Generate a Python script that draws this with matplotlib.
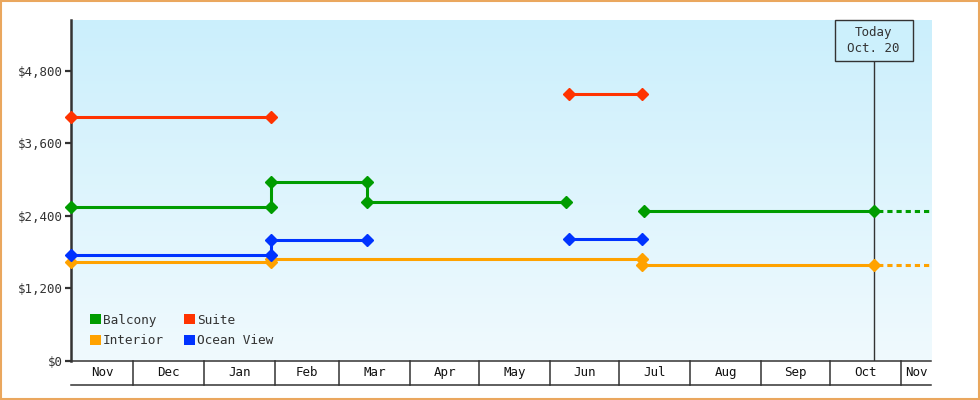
import datetime as dt
import numpy as np
import matplotlib
matplotlib.use("Agg")
import matplotlib.pyplot as plt
import matplotlib.dates as mdates
from matplotlib.patches import Rectangle, Patch

plt.rcParams["font.family"] = ["DejaVu Sans Mono"]

D = dt.date
NaN = np.nan

# ---------- data ----------
balcony_dates = [D(2012, 11, 4), D(2013, 1, 30), D(2013, 1, 30), D(2013, 3, 13), D(2013, 3, 13),
                 D(2013, 6, 8), D(2013, 6, 10), D(2013, 7, 12), D(2013, 10, 20)]
balcony_price = [2549, 2549, 2953, 2953, 2622, 2622, NaN, 2470, 2470]

suite_dates = [D(2012, 11, 4), D(2013, 1, 30), D(2013, 3, 1), D(2013, 6, 9), D(2013, 7, 11)]
suite_price = [4034, 4034, NaN, 4409, 4409]

interior_dates = [D(2012, 11, 4), D(2013, 1, 30), D(2013, 1, 30), D(2013, 7, 11), D(2013, 7, 11),
                  D(2013, 10, 20)]
interior_price = [1639, 1639, 1678, 1678, 1579, 1579]

ocean_dates = [D(2012, 11, 4), D(2013, 1, 30), D(2013, 1, 30), D(2013, 3, 13), D(2013, 4, 1),
               D(2013, 6, 9), D(2013, 7, 11)]
ocean_price = [1749, 1749, 1998, 1998, NaN, 2009, 2009]

series_names = ["Balcony", "Interior", "Suite", "Ocean View"]
series_dates = [balcony_dates, interior_dates, suite_dates, ocean_dates]
series_price = [balcony_price, interior_price, suite_price, ocean_price]
series_colors = ["#009c00", "#ffa200", "#ff3300", "#0033ff"]
# which series continue (dotted) past today
projected = [True, True, False, False]

today = D(2013, 10, 20)
today_label = "Today\nOct. 20"
x_start, x_end = D(2012, 11, 4), D(2013, 11, 14)
month_starts = [D(2012, 11, 4)] + [D(2012, 12, 1)] + [D(2013, m, 1) for m in range(1, 12)] + [D(2013, 11, 14)]
month_labels = ["Nov", "Dec", "Jan", "Feb", "Mar", "Apr", "May", "Jun", "Jul", "Aug", "Sep", "Oct", "Nov"]
y_ticks = [0, 1200, 2400, 3600, 4800]
y_max = 5640

DARK = "#333333"

fig = plt.figure(figsize=(9.8, 4.0), dpi=100)
fig.patches.append(Rectangle((0.001, 0.002), 0.998, 0.996, transform=fig.transFigure,
                             fill=False, edgecolor="#eaa75e", linewidth=1.5))
ax = fig.add_axes([71 / 980, 1 - 360.5 / 400, 860 / 980, 340.5 / 400])
ax.set_xlim(x_start, x_end)
ax.set_ylim(0, y_max)

# gradient background
grad = np.linspace(0, 1, 256).reshape(-1, 1)
top = np.array([0xcb, 0xef, 0xfc]) / 255
bot = np.array([0xf0, 0xfa, 0xfe]) / 255
img = top[None, None, :] * (1 - grad[:, :, None]) + bot[None, None, :] * grad[:, :, None]
ax.imshow(img, extent=[0, 1, 0, 1], transform=ax.transAxes, aspect="auto", zorder=0)

# series
for name, ds, ps, c, proj in zip(series_names, series_dates, series_price, series_colors, projected):
    ax.plot(ds, ps, color=c, lw=2.2, marker="D", ms=6.5, zorder=3, clip_on=False,
            solid_capstyle="butt")
    if proj:
        ax.plot([ds[-1], x_end], [ps[-1], ps[-1]], color=c, lw=2.2,
                linestyle=(1.8, (1.7, 1.3)), zorder=3)

# today marker
xt = ax.get_xaxis_transform()
box_bottom = (360.5 - 61) / 340.5
ax.plot([today, today], [0, box_bottom], transform=xt, color=DARK, lw=1, zorder=2)
half = dt.timedelta(days=17.5)
ax.add_patch(Rectangle((mdates.date2num(today - half), box_bottom),
                       mdates.date2num(today + half) - mdates.date2num(today - half),
                       1 - box_bottom, transform=xt, facecolor="#ccf0fc",
                       edgecolor=DARK, lw=1, zorder=4, clip_on=False))
ax.text(today, (box_bottom + 1) / 2, today_label, transform=xt, ha="center", va="center",
        fontsize=9, color=DARK, linespacing=1.35, zorder=5)

# y axis
ax.set_yticks(y_ticks)
ax.set_yticklabels(["${:,}".format(v) for v in y_ticks])
ax.tick_params(axis="y", length=4, width=1.6, color=DARK, labelcolor=DARK, labelsize=9, pad=2)
ax.set_xticks([])
for s in ["top", "right"]:
    ax.spines[s].set_visible(False)
ax.spines["left"].set_color(DARK)
ax.spines["left"].set_linewidth(1.8)
ax.spines["bottom"].set_color(DARK)
ax.spines["bottom"].set_linewidth(1.1)

# month table below the axis
row_bot = -(385 - 360.5) / 340.5
ax.plot([x_start, x_end], [row_bot, row_bot], transform=xt, color=DARK, lw=1.1, clip_on=False)
for d in month_starts[1:-1]:
    ax.plot([d, d], [0, row_bot], transform=xt, color=DARK, lw=1.1, clip_on=False)
for i, lab in enumerate(month_labels):
    a, b = mdates.date2num(month_starts[i]), mdates.date2num(month_starts[i + 1])
    ax.text((a + b) / 2, row_bot / 2, lab, transform=xt, ha="center", va="center",
            fontsize=9, color="#111111")

# legend
handles = [Patch(facecolor=c, edgecolor="none") for c in series_colors]
leg = ax.legend(handles, series_names, ncol=2, loc="lower left",
                bbox_to_anchor=(0.012, 0.012), frameon=False, fontsize=9.2,
                handlelength=0.85, handleheight=0.85, handletextpad=0.15,
                columnspacing=1.55, labelspacing=0.6, borderpad=0.2)
for t in leg.get_texts():
    t.set_color(DARK)

fig.savefig("out.png", dpi=100, facecolor="white")
